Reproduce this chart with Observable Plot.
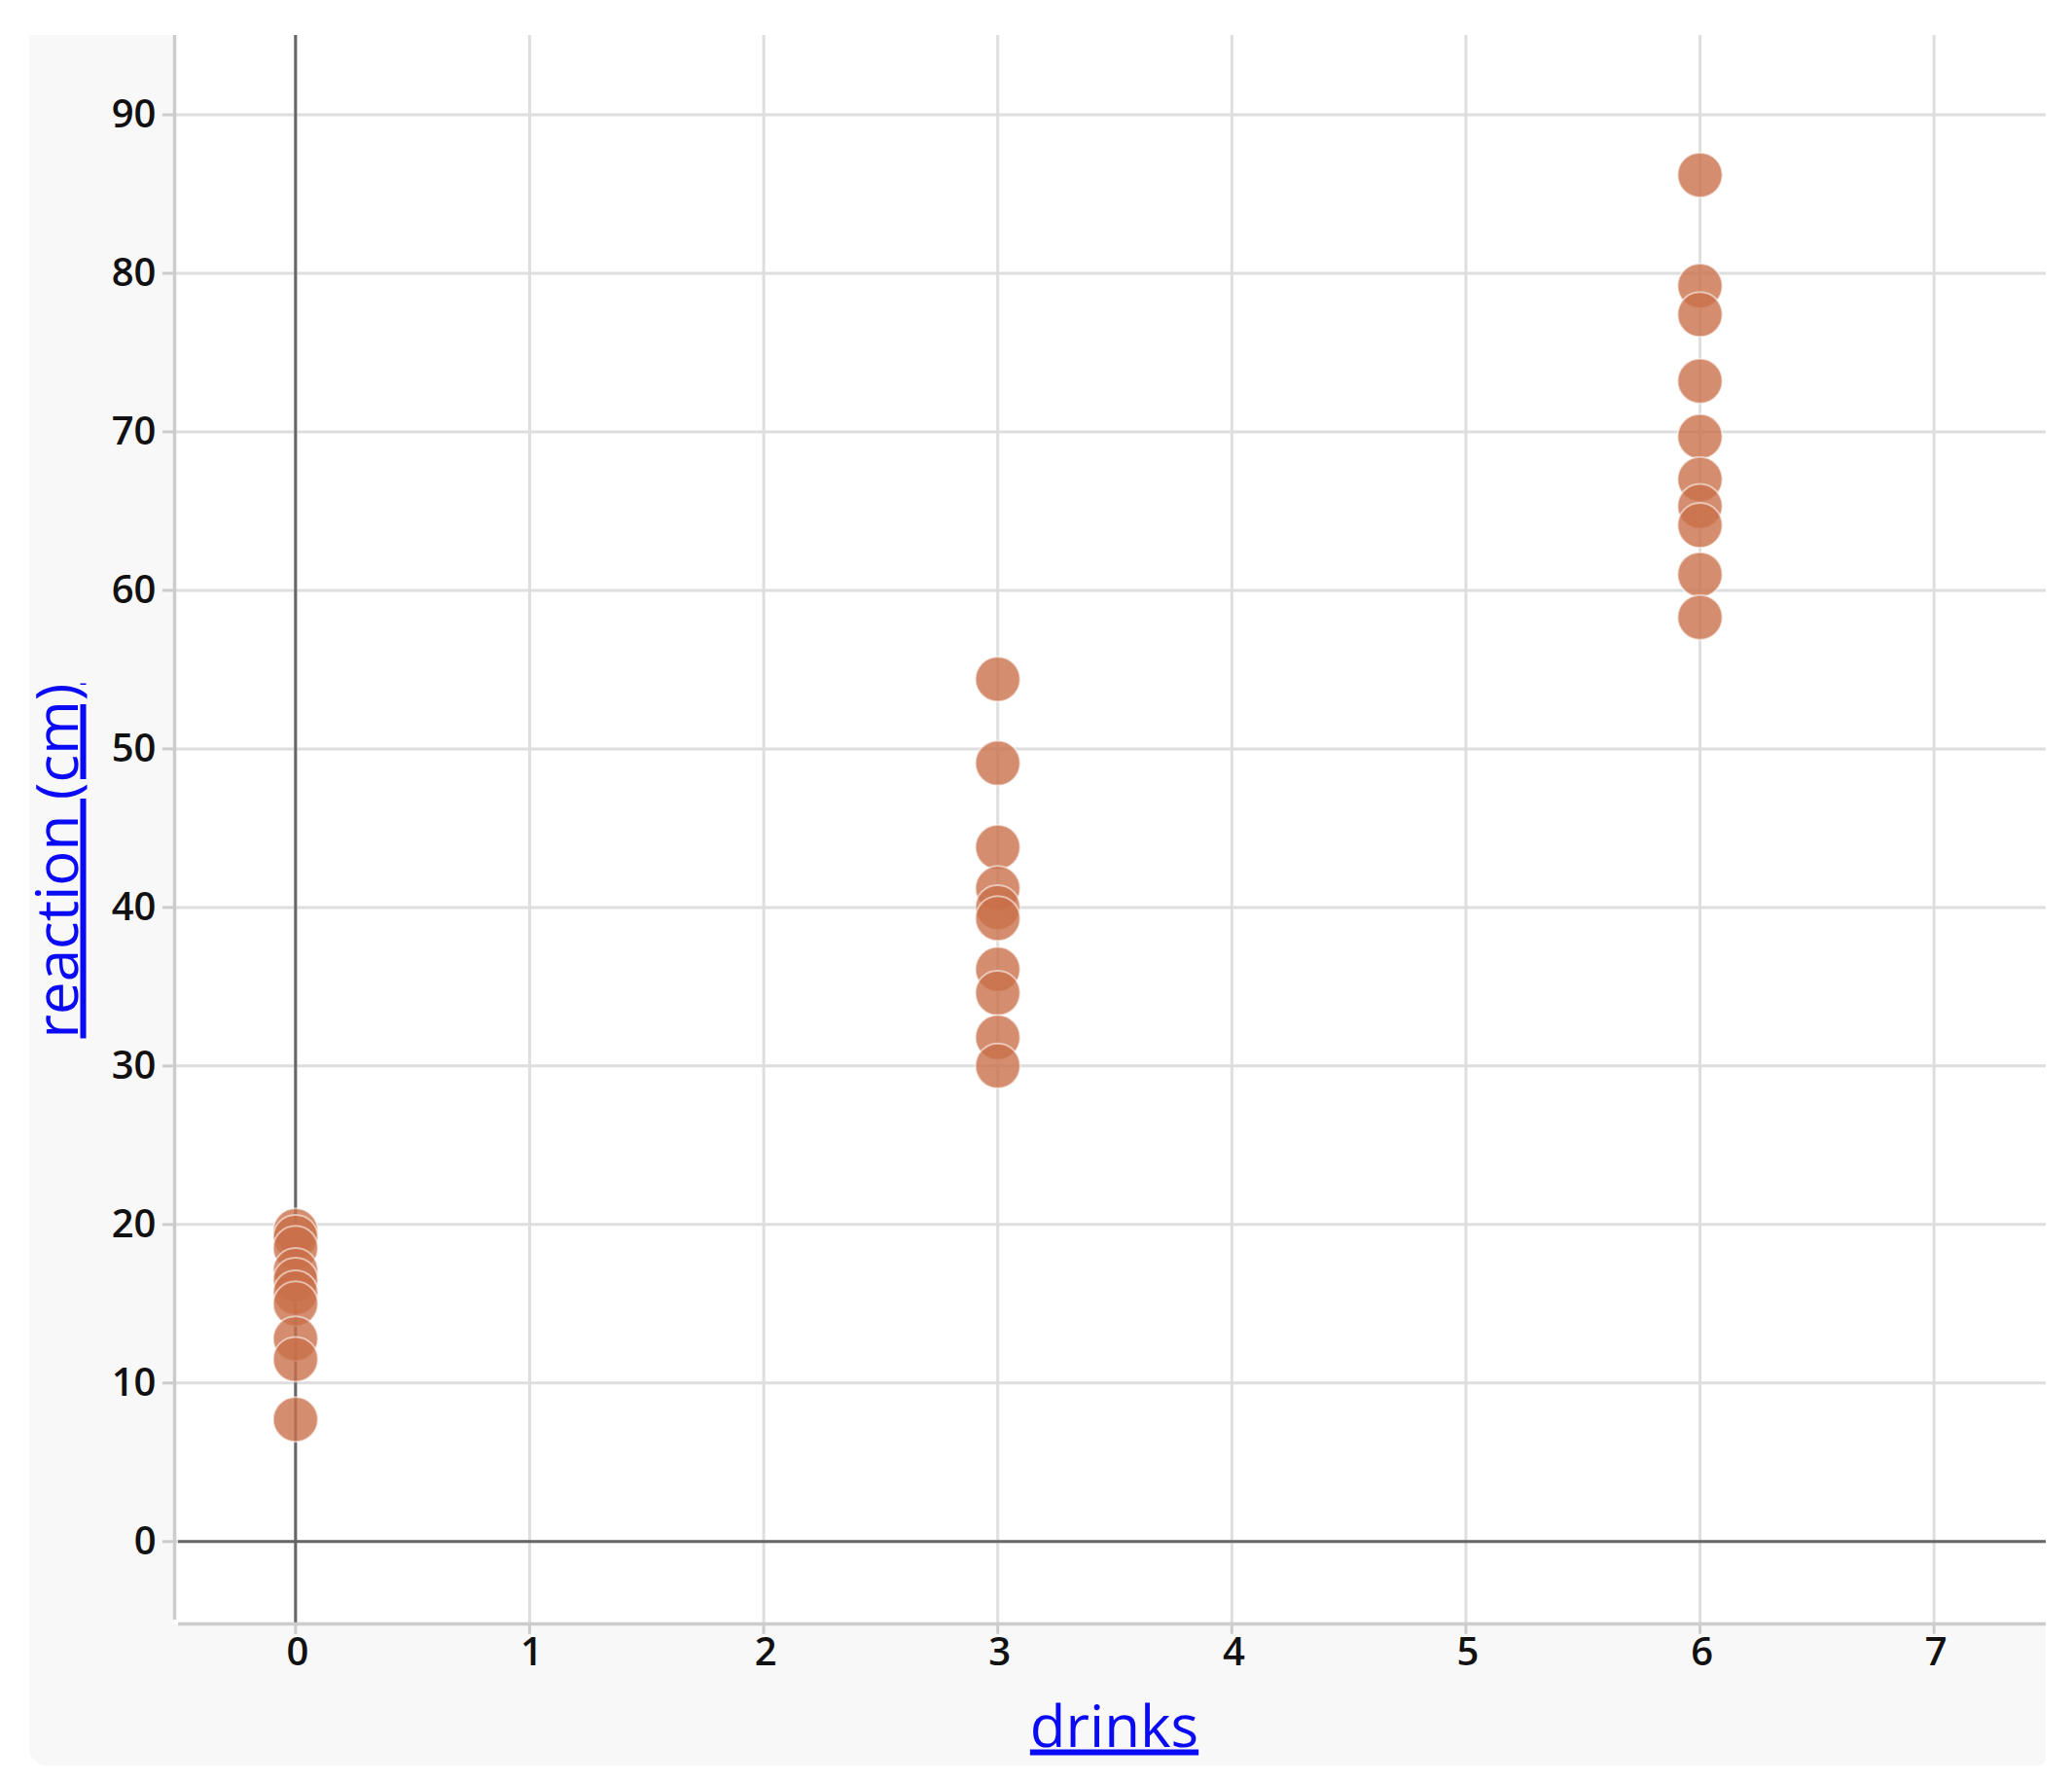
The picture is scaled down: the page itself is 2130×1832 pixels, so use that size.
<!DOCTYPE html>
<html>
<head>
<meta charset="utf-8">
<script src="https://cdn.jsdelivr.net/npm/d3@7"></script>
<script src="https://cdn.jsdelivr.net/npm/@observablehq/plot@0.6"></script>
<style>
  html, body { margin: 0; padding: 0; background: #fff; }
  #wrap { position: relative; width: 2130px; height: 1832px; }
  #panel { position: absolute; left: 30px; top: 36px; width: 2073px; height: 1779px;
           background: #f8f8f8; border-radius: 0 0 8px 18px; }
  #chart { position: absolute; left: 0; top: 0; }
</style>
</head>
<body>
<div id="wrap"><div id="panel"></div><div id="chart"></div></div>
<script>
// ---- data ----
const drinkLevels = [0, 3, 6];
const reaction0 = [19.6, 19.2, 18.5, 17.1, 16.5, 15.7, 15.0, 12.8, 11.5, 7.7];
const reaction3 = [54.4, 49.1, 43.8, 41.2, 40.0, 39.3, 36.1, 34.6, 31.8, 30.0];
const reaction6 = [86.2, 79.2, 77.4, 73.2, 69.7, 67.0, 65.3, 64.1, 61.0, 58.3];
const xTicks = [0, 1, 2, 3, 4, 5, 6, 7];
const yTicks = [0, 10, 20, 30, 40, 50, 60, 70, 80, 90];
const xLabel = "drinks";
const yLabel = "reaction (cm)";

const series = [reaction0, reaction3, reaction6];
const data = drinkLevels.flatMap((d, i) => series[i].map(r => ({drinks: d, reaction: r})));

const gridColor = "#dedede";
const spineColor = "#cccccc";
const zeroColor = "#666666";
const titleColor = "#0a0af5";

const chart = Plot.plot({
  width: 2130,
  height: 1832,
  marginLeft: 179,
  marginRight: 27,
  marginTop: 36,
  marginBottom: 163,
  style: {background: "transparent", fontFamily: "'Open Sans', 'Noto Sans', sans-serif", color: "#111"},
  x: {domain: [-0.5, 7.5], insetLeft: 4, insetRight: -5, axis: null},
  y: {domain: [-5, 95], insetBottom: 3.2, insetTop: 0, axis: null},
  marks: [
    Plot.frame({fill: "white", stroke: "none"}),
    // grid
    Plot.ruleX(xTicks, {x: d => d, stroke: gridColor, strokeWidth: 3}),
    Plot.ruleY(yTicks, {y: d => d, stroke: gridColor, strokeWidth: 3}),
    // zero lines
    Plot.ruleX([0], {x: d => d, stroke: zeroColor, strokeWidth: 3}),
    Plot.ruleY([0], {y: d => d, stroke: zeroColor, strokeWidth: 3, insetLeft: 4}),
    // spines
    Plot.ruleX([-0.5], {x: d => d, dx: -4, stroke: spineColor, strokeWidth: 3.5, insetBottom: 4}),
    Plot.ruleY([-5], {y: d => d, dy: 3.2, stroke: spineColor, strokeWidth: 3.5, insetLeft: 4}),
    // tick marks
    Plot.ruleX(xTicks, {x: d => d, y1: -5, y2: -5, insetTop: 3.2, insetBottom: -14, stroke: spineColor, strokeWidth: 3}),
    Plot.ruleY(yTicks, {y: d => d, x1: -0.5, x2: -0.5, insetLeft: -16, insetRight: 4, stroke: spineColor, strokeWidth: 3}),
    // tick labels
    Plot.text(xTicks, {x: d => d, text: d => String(d), frameAnchor: "bottom", dy: 30, dx: 2, lineAnchor: "middle",
                       textAnchor: "middle", fontSize: 40, fontWeight: 600, fill: "#111"}),
    Plot.text(yTicks, {y: d => d, text: d => String(d), frameAnchor: "left", dx: -19, textAnchor: "end",
                       lineAnchor: "middle", fontSize: 40, fontWeight: 600, fill: "#111"}),
    // axis titles
    Plot.text([xLabel], {text: d => d, frameAnchor: "bottom", dx: 4, dy: 126, lineAnchor: "bottom",
                         textAnchor: "middle", fontSize: 60, fontWeight: 500, fill: titleColor}),
    Plot.text([yLabel], {text: d => d, frameAnchor: "left", rotate: -90, dx: -100, dy: 32, lineAnchor: "bottom",
                         textAnchor: "middle", fontSize: 60, fontWeight: 500, fill: titleColor}),
    // dots
    Plot.dot(data, {x: "drinks", y: "reaction", r: 23, fill: "#c9714a", fillOpacity: 0.8,
                    stroke: "white", strokeOpacity: 0.55, strokeWidth: 2})
  ]
});
// underline the axis titles (as links in the original)
d3.select(chart).selectAll("text")
  .filter(function() { return this.textContent === xLabel || this.textContent === yLabel; })
  .attr("text-decoration", "underline")
  .style("text-decoration", "underline")
  .style("text-decoration-skip-ink", "none")
  .style("text-rendering", "geometricPrecision");
document.getElementById("chart").appendChild(chart);
</script>
</body>
</html>
